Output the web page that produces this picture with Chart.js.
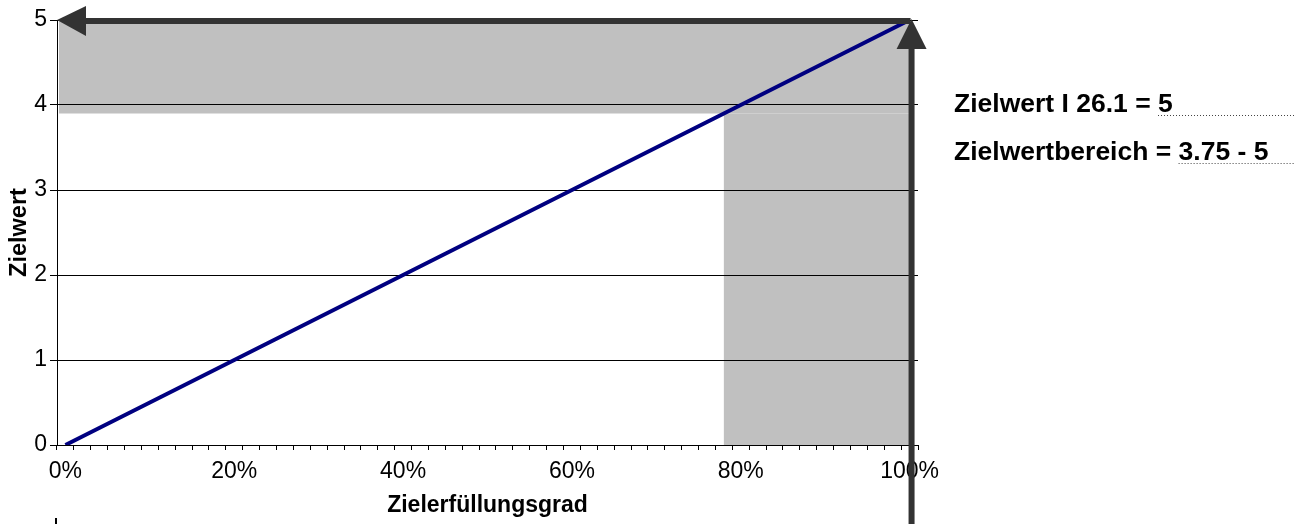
<!DOCTYPE html>
<html lang="de">
<head>
    <meta charset="UTF-8">
    <script src="https://cdn.jsdelivr.net/npm/chart.js"></script>
    <style>
        html, body { margin: 0; padding: 0; background: #fff; }
    </style>
</head>
<body>
    <canvas id="chart" width="1307" height="524"></canvas>

    <script>
        // Zielerfüllungsgrad in 2% steps
        const categories = [
            '0%', '2%', '4%', '6%', '8%', '10%', '12%', '14%', '16%', '18%',
            '20%', '22%', '24%', '26%', '28%', '30%', '32%', '34%', '36%', '38%',
            '40%', '42%', '44%', '46%', '48%', '50%', '52%', '54%', '56%', '58%',
            '60%', '62%', '64%', '66%', '68%', '70%', '72%', '74%', '76%', '78%',
            '80%', '82%', '84%', '86%', '88%', '90%', '92%', '94%', '96%', '98%',
            '100%'
        ];
        const zielwert = [
            0.0, 0.1, 0.2, 0.3, 0.4, 0.5, 0.6, 0.7, 0.8, 0.9,
            1.0, 1.1, 1.2, 1.3, 1.4, 1.5, 1.6, 1.7, 1.8, 1.9,
            2.0, 2.1, 2.2, 2.3, 2.4, 2.5, 2.6, 2.7, 2.8, 2.9,
            3.0, 3.1, 3.2, 3.3, 3.4, 3.5, 3.6, 3.7, 3.8, 3.9,
            4.0, 4.1, 4.2, 4.3, 4.4, 4.5, 4.6, 4.7, 4.8, 4.9,
            5.0
        ];
        const shownLabels = ['0%', '20%', '40%', '60%', '80%', '100%'];
        const yMin = 0;
        const yMax = 5;

        // gray target band: everything above bandValue or right of bandCategory
        const bandValue = 3.9;
        const bandCategory = '78%';
        const arrowCategory = '100%';
        const arrowValue = 5;

        const notes = [
            ['Zielwert I 26.1 = ', '5'],
            ['Zielwertbereich = ', '3.75 - 5']
        ];

        const arrowColor = '#333333';
        const fontFamily = '"Liberation Sans", Arial, sans-serif';

        const markup = {
            id: 'markup',
            beforeDraw(chart) {
                const { ctx, chartArea, scales: { x, y } } = chart;
                const xBand = x.getPixelForValue(categories.indexOf(bandCategory));
                const xEnd = x.getPixelForValue(categories.indexOf(arrowCategory));
                const yBand = y.getPixelForValue(bandValue);
                const yTop = y.getPixelForValue(yMax);
                const yBottom = y.getPixelForValue(yMin);
                ctx.save();
                ctx.fillStyle = '#c0c0c0';
                ctx.fillRect(chartArea.left + 2, yTop, xEnd - chartArea.left - 2, yBand - yTop);
                ctx.fillRect(xBand, yBand, xEnd - xBand, yBottom - yBand);
                ctx.restore();
            },
            afterDatasetsDraw(chart) {
                const { ctx, chartArea, scales: { x, y } } = chart;
                const xEnd = x.getPixelForValue(categories.indexOf(arrowCategory));
                const yTop = y.getPixelForValue(arrowValue);
                ctx.save();
                ctx.fillStyle = arrowColor;
                ctx.strokeStyle = arrowColor;
                ctx.lineWidth = 6;

                // arrow pointing left along the top
                ctx.beginPath();
                ctx.moveTo(xEnd + 1, yTop + 1);
                ctx.lineTo(chartArea.left + 20, yTop + 1);
                ctx.stroke();
                ctx.beginPath();
                ctx.moveTo(chartArea.left, yTop);
                ctx.lineTo(chartArea.left + 29, yTop - 14);
                ctx.lineTo(chartArea.left + 29, yTop + 16);
                ctx.closePath();
                ctx.fill();

                // arrow pointing up at 100%
                ctx.beginPath();
                ctx.moveTo(xEnd + 2, chart.height);
                ctx.lineTo(xEnd + 2, yTop + 20);
                ctx.stroke();
                ctx.beginPath();
                ctx.moveTo(xEnd + 2, yTop - 1);
                ctx.lineTo(xEnd + 17, yTop + 29);
                ctx.lineTo(xEnd - 13, yTop + 29);
                ctx.closePath();
                ctx.fill();

                // small mark bottom left
                ctx.fillStyle = '#000';
                ctx.fillRect(chartArea.left - 2, chart.height - 6, 2, 6);

                // notes on the right
                ctx.font = 'bold 26.5px ' + fontFamily;
                ctx.textBaseline = 'alphabetic';
                ctx.textAlign = 'left';
                notes.forEach(([label, value], i) => {
                    const tx = 954;
                    const ty = 112 + i * 48;
                    ctx.fillStyle = '#000';
                    ctx.fillText(label, tx, ty);
                    const vx = tx + ctx.measureText(label).width;
                    ctx.fillText(value, vx, ty);
                    ctx.strokeStyle = '#444';
                    ctx.lineWidth = 1;
                    ctx.setLineDash([1, 2]);
                    ctx.beginPath();
                    ctx.moveTo(vx, ty + 3.5);
                    ctx.lineTo(1295, ty + 3.5);
                    ctx.stroke();
                    ctx.setLineDash([]);
                });
                ctx.restore();
            }
        };

        const ctx = document.getElementById('chart').getContext('2d');
        const chart = new Chart(ctx, {
            type: 'line',
            data: {
                labels: categories,
                datasets: [{
                    label: 'Zielwert',
                    data: zielwert,
                    borderColor: '#000080',
                    borderWidth: 4,
                    pointRadius: 0,
                    tension: 0
                }]
            },
            options: {
                responsive: false,
                animation: false,
                devicePixelRatio: 1,
                layout: { padding: { left: 0, top: 20, right: 389, bottom: 0 } },
                plugins: {
                    legend: { display: false },
                    tooltip: { enabled: false }
                },
                scales: {
                    x: {
                        type: 'category',
                        offset: true,
                        afterFit: (scale) => { scale.height = 79; },
                        grid: {
                            offset: true,
                            drawOnChartArea: false,
                            color: '#000',
                            tickLength: 5
                        },
                        border: { color: '#000', width: 1 },
                        ticks: {
                            autoSkip: false,
                            maxRotation: 0,
                            padding: 8,
                            color: '#000',
                            font: { family: fontFamily, size: 23 },
                            callback: (value, index) => shownLabels.includes(categories[index]) ? categories[index] : ''
                        },
                        title: {
                            display: true,
                            text: 'Zielerfüllungsgrad',
                            color: '#000',
                            padding: { top: 0, bottom: 5 },
                            font: { family: fontFamily, size: 23, weight: 'bold' }
                        }
                    },
                    y: {
                        min: yMin,
                        max: yMax,
                        afterFit: (scale) => { scale.width = 57; },
                        grid: { color: '#000', lineWidth: 1, tickLength: 7 },
                        border: { color: '#000', width: 1 },
                        ticks: {
                            stepSize: 1,
                            padding: 3,
                            color: '#000',
                            font: { family: fontFamily, size: 23 }
                        },
                        title: {
                            display: true,
                            text: 'Zielwert',
                            color: '#000',
                            padding: { top: 5, bottom: 0 },
                            font: { family: fontFamily, size: 23.5, weight: 'bold' }
                        }
                    }
                }
            },
            plugins: [markup]
        });
    </script>
</body>
</html>
